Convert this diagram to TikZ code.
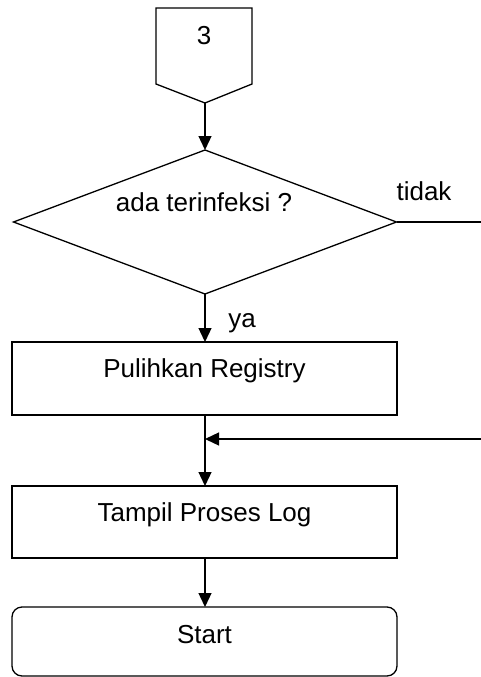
\documentclass[tikz,border=0pt]{standalone}
\usepackage{fontspec}
\setmainfont{Liberation Sans}
\usetikzlibrary{shapes.geometric,arrows.meta}
\tikzset{
  kotak/.style={shape=rectangle,draw=black,minimum width=385pt,outer sep=0pt},
  keputusan/.style={shape=diamond,draw=black,minimum width=383pt,minimum height=144pt,inner sep=0pt,outer sep=0pt},
  terminal/.style={shape=rectangle,draw=black,rounded corners=10pt,minimum width=385pt,outer sep=0pt},
  panah/.style={->,>={Triangle[length=14pt,width=13pt]}}
}
\begin{document}
\begin{tikzpicture}[x=1pt,y=-1pt,line width=1.3pt,font=\fontsize{26}{31}\selectfont]
                \useasboundingbox (0,0) rectangle (481,677);

                % konektor halaman
                \draw (156,8) -- (252,8) -- (252,84) -- (205,103) -- (156,84) -- cycle;
                \coordinate (ujung3) at (205,103);
                \node (hal3) at (204,35.5) {3};

                \node[keputusan] (cek) at (205,222) {};
                \node (cektxt) at (204,202.5) {ada terinfeksi ?};
                \node (tidak) at (424,191) {tidak};
                \coordinate (keluar) at (481,222);

                \node[kotak,minimum height=73pt] (pulih) at (204.5,378.5) {};
                \node (pulihtxt) at (204.5,371) {Pulihkan Registry};
                \node (ya) at (242,323) {ya};

                \coordinate (masuk) at (481,439);
                \coordinate (temu) at (205,439);

                \node[kotak,minimum height=72pt] (log) at (204.5,522) {};
                \node (logtxt) at (204.5,515) {Tampil Proses Log};

                \node[terminal,minimum height=69pt] (start) at (204.5,641.5) {};
                \node (starttxt) at (204.5,634.6) {Start};

                \path [panah] (ujung3) edge (cek.north);
                \path [-] (cek.east) edge (keluar);
                \path [panah] (cek.south) edge (cek.south |- pulih.north);
                \path [panah] (pulih.south -| temu) edge (temu |- log.north);
                \path [panah] (masuk) edge (temu);
                \path [panah] (temu |- log.south) edge (temu |- start.north);
            \end{tikzpicture}
\end{document}
